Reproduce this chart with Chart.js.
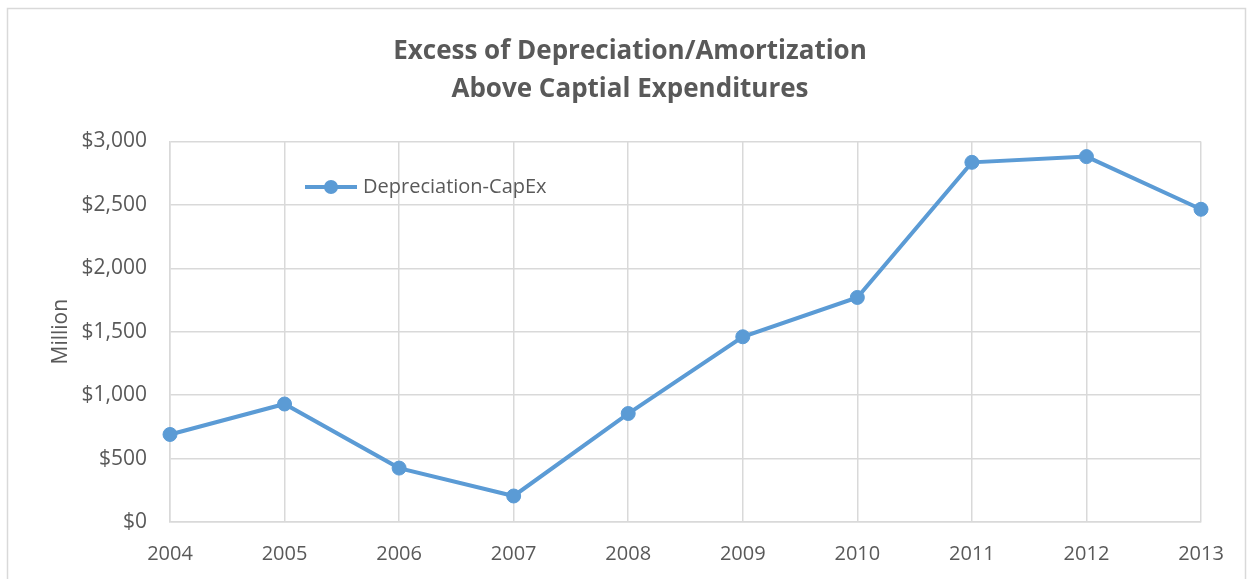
<!DOCTYPE html>
<html>
<head>
<meta charset="utf-8">
<script src="https://cdn.jsdelivr.net/npm/chart.js@4/dist/chart.umd.min.js"></script>
<style>
  body { margin: 0; background: #fff; }
  #wrap { width: 1252px; height: 579px; position: relative; overflow: hidden; }
</style>
</head>
<body>
<div id="wrap"><canvas id="chart1" width="1252" height="579"></canvas></div>
<script>
const years = ['2004', '2005', '2006', '2007', '2008', '2009', '2010', '2011', '2012', '2013'];
const depreciationCapex = [690, 930, 425, 205, 855, 1460, 1770, 2835, 2880, 2465];
const seriesName = 'Depreciation-CapEx';
const titleLines = ['Excess of Depreciation/Amortization', 'Above Captial Expenditures'];

const grey = '#595959';
const gridGrey = '#d9d9d9';
const blue = '#5b9bd5';

// outer frame of the chart object
const framePlugin = {
  id: 'frame',
  beforeDraw(chart) {
    const ctx = chart.ctx;
    ctx.save();
    ctx.strokeStyle = gridGrey;
    ctx.lineWidth = 1.5;
    ctx.strokeRect(7.5, 8.5, 1238, 620);
    ctx.restore();
  }
};

// legend sits inside the plot area, top left
const insideLegend = {
  id: 'insideLegend',
  afterDraw(chart) {
    const ctx = chart.ctx;
    const ds = chart.data.datasets[0];
    const x = 305, y = 187;
    ctx.save();
    ctx.strokeStyle = ds.borderColor;
    ctx.lineWidth = 4;
    ctx.beginPath();
    ctx.moveTo(x, y);
    ctx.lineTo(x + 52, y);
    ctx.stroke();
    ctx.fillStyle = ds.backgroundColor;
    ctx.beginPath();
    ctx.arc(x + 26, y, 7, 0, Math.PI * 2);
    ctx.fill();
    ctx.fillStyle = grey;
    ctx.font = '20px "Open Sans"';
    ctx.textBaseline = 'middle';
    ctx.fillText(ds.label, x + 58, y);
    ctx.restore();
  }
};

new Chart(document.getElementById('chart1'), {
  type: 'line',
  data: {
    labels: years,
    datasets: [{
      label: seriesName,
      data: depreciationCapex,
      borderColor: blue,
      backgroundColor: blue,
      borderWidth: 4,
      pointRadius: 7,
      pointBorderWidth: 1,
      pointBackgroundColor: blue,
      pointBorderColor: blue,
      tension: 0
    }]
  },
  options: {
    responsive: false,
    devicePixelRatio: 1,
    animation: false,
    layout: { padding: { left: 59, right: 51, top: 33, bottom: 0 } },
    plugins: {
      legend: { display: false },
      tooltip: { enabled: false },
      title: {
        display: true,
        text: titleLines,
        color: grey,
        font: { family: '"Open Sans"', size: 26, weight: 'bold', lineHeight: 1.45 },
        padding: { top: 0, bottom: 33 }
      }
    },
    scales: {
      x: {
        offset: false,
        grid: { color: gridGrey, lineWidth: 1.5, offset: false, drawTicks: false },
        border: { color: gridGrey, width: 1.5 },
        ticks: { color: grey, font: { family: '"Open Sans"', size: 20 }, padding: 20, maxRotation: 0 },
        afterFit(scale) { scale.height = 57; }
      },
      y: {
        min: 0,
        max: 3000,
        grid: { color: gridGrey, lineWidth: 1.5, drawTicks: false },
        border: { color: gridGrey, width: 1.5 },
        ticks: {
          stepSize: 500,
          color: grey,
          font: { family: '"Open Sans"', size: 21 },
          padding: 23,
          callback: v => '$' + v.toLocaleString('en-US')
        },
        title: {
          display: true,
          text: 'Million',
          color: grey,
          font: { family: '"Open Sans"', size: 21 },
          padding: { top: -11, bottom: 0 }
        },
        afterFit(scale) { scale.width = 111; }
      }
    }
  },
  plugins: [framePlugin, insideLegend]
});
</script>
</body>
</html>
